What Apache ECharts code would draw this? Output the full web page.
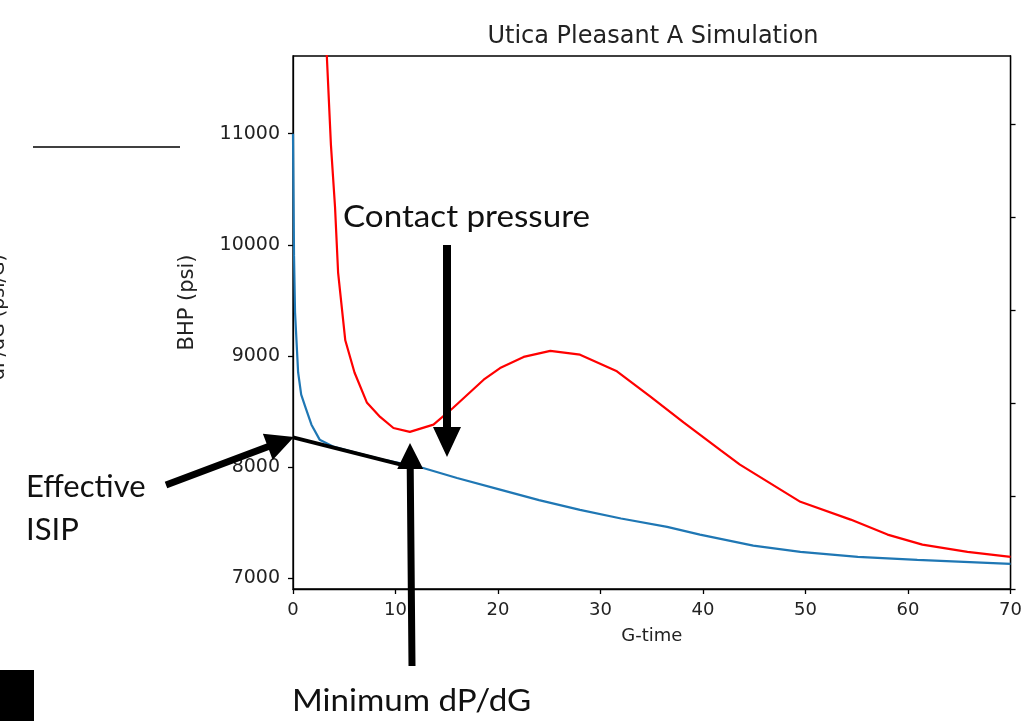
<!DOCTYPE html>
<html>
<head>
<meta charset="utf-8">
<title>Utica Pleasant A Simulation</title>
<script src="https://cdn.jsdelivr.net/npm/echarts@6/dist/echarts.min.js"></script>
<style>
html, body { margin: 0; padding: 0; background: #fff; }
#chart { width: 1025px; height: 721px; }
</style>
</head>
<body>
<div id="chart"></div>
<script>
'use strict';

// 蓝线 BHP (psi) vs G-time
var blueG   = [0, 0.1, 0.2, 0.5, 0.8, 1.2, 1.8, 2.6, 4, 6, 9, 12.7, 16, 20.2, 24, 28, 32, 36.5, 39.7, 44.9, 49.5, 55.1, 60.9, 70];
var blueBHP = [11000, 9900, 9390, 8850, 8650, 8540, 8380, 8245, 8180, 8130, 8060, 7990, 7900, 7795, 7700, 7613, 7535, 7460, 7390, 7290, 7235, 7190, 7162, 7126];

// 红线
var redG   = [3.0, 3.3, 3.7, 4.1, 4.4, 5.1, 6.0, 7.2, 8.5, 9.8, 11.4, 13.7, 15.6, 18.6, 20.2, 22.5, 25.1, 28.0, 31.6, 34.9, 38.1, 41.7, 43.6, 49.5, 54.4, 58.0, 61.4, 65.8, 70];
var redBHP = [12400, 11700, 10900, 10340, 9750, 9140, 8850, 8580, 8450, 8350, 8315, 8380, 8530, 8785, 8890, 8990, 9045, 9010, 8860, 8630, 8400, 8150, 8020, 7685, 7525, 7390, 7300, 7235, 7190];

// Effective ISIP 切线
var tangentG   = [0, 11.4];
var tangentBHP = [8265, 8000];

// 刻度
var yTicks     = [7000, 8000, 9000, 10000, 11000];
var rightTicks = [0, 1, 2, 3, 4, 5];

function pairs(xs, ys) {
    var out = [];
    for (var i = 0; i < xs.length; i++) {
        out.push([xs[i], ys[i]]);
    }
    return out;
}

// 粗箭头（注释用，像素坐标）
function arrow(x1, y1, x2, y2, shaft, headLen, headW) {
    var dx = x2 - x1, dy = y2 - y1;
    var len = Math.sqrt(dx * dx + dy * dy);
    var ux = dx / len, uy = dy / len;
    var nx = -uy, ny = ux;
    var bx = x2 - ux * headLen, by = y2 - uy * headLen;
    var s = shaft / 2, h = headW / 2;
    return {
        type: 'polygon',
        shape: {
            points: [
                [x1 + nx * s, y1 + ny * s],
                [bx + nx * s, by + ny * s],
                [bx + nx * h, by + ny * h],
                [x2, y2],
                [bx - nx * h, by - ny * h],
                [bx - nx * s, by - ny * s],
                [x1 - nx * s, y1 - ny * s]
            ]
        },
        style: { fill: '#000' },
        z: 100
    };
}

function label(text, x, y, sx) {
    return {
        type: 'text',
        x: x,
        y: y,
        scaleX: sx,
        style: {
            text: text,
            font: '31px Lato',
            fill: '#111',
            verticalAlign: 'middle'
        },
        z: 100
    };
}

var tickColor = '#222';
var axisLine = { lineStyle: { color: '#000', width: 1.3 } };

var chart = echarts.init(document.getElementById('chart'));

var option = {
    backgroundColor: '#fff',
    animation: false,
    title: {
        text: 'Utica Pleasant A Simulation',
        left: 648,
        top: 20,
        textAlign: 'center',
        textStyle: { fontFamily: 'DejaVu Sans', fontSize: 24, fontWeight: 'normal', color: tickColor }
    },
    grid: {
        left: 293,
        top: 56,
        right: 14,
        bottom: 132,
        show: true,
        borderColor: '#000',
        borderWidth: 1.3,
        backgroundColor: 'transparent'
    },
    xAxis: {
        type: 'value',
        min: 0,
        max: 70,
        interval: 10,
        name: 'G-time',
        nameLocation: 'middle',
        nameGap: 38,
        nameTextStyle: { fontFamily: 'DejaVu Sans', fontSize: 18, color: tickColor },
        axisLine: axisLine,
        axisTick: { inside: false, length: 5, lineStyle: { color: '#000', width: 1.3 } },
        axisLabel: { fontSize: 18, margin: 12, color: tickColor, fontFamily: 'DejaVu Sans' },
        splitLine: { show: false }
    },
    yAxis: [{
        type: 'value',
        min: 6900,
        max: 11700,
        name: 'BHP (psi)',
        nameLocation: 'middle',
        nameGap: 95,
        nameRotate: 90,
        nameTextStyle: { fontFamily: 'DejaVu Sans', fontSize: 21, color: tickColor, padding: [0, 0, 0, 40] },
        axisLine: axisLine,
        axisTick: { inside: false, length: 5, lineStyle: { color: '#000', width: 1.3 }, customValues: yTicks },
        axisLabel: {
            fontSize: 19,
            margin: 13,
            color: tickColor,
            fontFamily: 'DejaVu Sans',
            customValues: yTicks,
            formatter: function (v) { return String(v); }
        },
        splitLine: { show: false }
    }, {
        type: 'value',
        position: 'right',
        min: 0,
        max: 5.73,
        axisLine: { show: true, lineStyle: { color: '#000', width: 1.3 } },
        axisTick: { inside: false, length: 5, lineStyle: { color: '#000', width: 1.3 }, customValues: rightTicks },
        axisLabel: { show: false },
        splitLine: { show: false }
    }],
    series: [{
        name: 'blue',
        type: 'line',
        data: pairs(blueG, blueBHP),
        symbol: 'none',
        smooth: false,
        lineStyle: { color: '#1f77b4', width: 2.2 },
        z: 3
    }, {
        name: 'red',
        type: 'line',
        data: pairs(redG, redBHP),
        symbol: 'none',
        smooth: false,
        lineStyle: { color: '#ff0000', width: 2.2 },
        z: 3
    }, {
        name: 'tangent',
        type: 'line',
        data: pairs(tangentG, tangentBHP),
        symbol: 'none',
        lineStyle: { color: '#000', width: 4 },
        z: 5
    }],
    graphic: [
        arrow(447, 245, 447, 457, 8, 30, 28),
        arrow(412, 666, 410, 443, 7, 26, 26),
        arrow(166, 485, 294, 437, 7, 28, 28),
        label('Contact pressure', 343, 217, 1.07),
        label('Effective', 26, 487, 1.0),
        label('ISIP', 26, 530, 1.0),
        label('Minimum dP/dG', 292, 701, 1.07),
        // 左侧被裁掉的残留元素
        {
            type: 'line',
            shape: { x1: 33, y1: 147, x2: 180, y2: 147 },
            style: { stroke: '#000', lineWidth: 1.5 }
        },
        {
            type: 'text',
            x: -1,
            y: 317,
            rotation: Math.PI / 2,
            style: {
                text: 'dP/dG (psi/G)',
                font: '19px "DejaVu Sans"',
                fill: '#222',
                align: 'center',
                verticalAlign: 'middle'
            }
        },
        {
            type: 'rect',
            shape: { x: 0, y: 670, width: 34, height: 51 },
            style: { fill: '#000' }
        }
    ]
};

chart.setOption(option);
</script>
</body>
</html>
